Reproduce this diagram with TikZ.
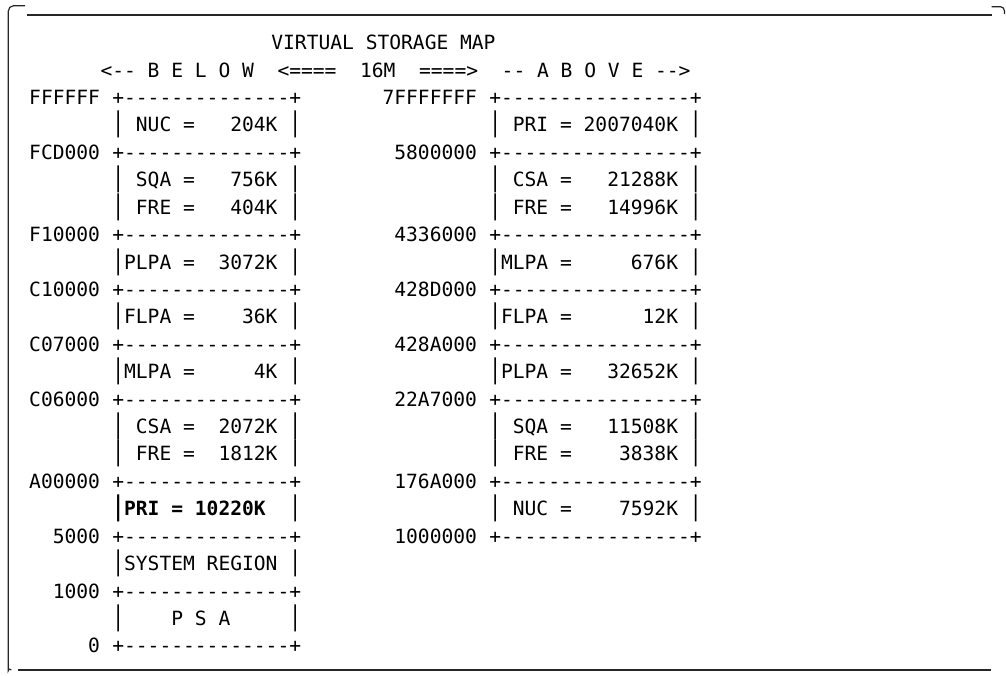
\documentclass[tikz,border=0pt]{standalone}
\usepackage{graphicx}
\usepackage{fontspec}
\setmonofont{DejaVu Sans Mono}
% tall bar, so that the sides of a box run on from row to row
\newcommand{\cellbar}{\scalebox{1}[1.38]{|}}

\begin{document}
\begin{tikzpicture}[
x=8.835pt, y=-20.565pt,
cell/.style={anchor=base west, inner sep=0pt, font=\ttfamily\fontsize{14.7pt}{17pt}\selectfont},
addr/.style={cell, anchor=base east},
frame/.style={line width=0.9pt, black!85}
]
\useasboundingbox (-2.513,-3.811) rectangle (82.886,20.806);

% frame round the screen
\draw[frame] (-0.246,-3.264) -- (81.67,-3.264);
\draw[frame, rounded corners=4pt] (-0.39,-3.603) -- (-1.808,-3.603) -- (-1.808,20.45) to[out=-90,in=180] (-1.55,20.62);
\draw[frame, rounded corners=3pt] (81.67,-3.567) -- (82.75,-3.567) -- (82.75,-3.3);
\draw[frame] (-0.985,20.62) -- (81.59,20.62);

% heading
\node[cell] (title) at (20.5,-2) {VIRTUAL STORAGE MAP};
\node[cell] (scale) at (6,-1) {<--~B~E~L~O~W~~<====~~16M~~====>~~--~A~B~O~V~E~-->};

% below the line: boundaries
\foreach \r/\adr in {0/FFFFFF,2/FCD000,5/F10000,7/C10000,9/C07000,11/C06000,14/A00000,16/5000,18/1000,20/0} {
  \node[addr] (la\r) at (6,\r) {\adr};
  \node[cell] (lb\r) at (7,\r) {+--------------+};
}
% below the line: areas
\node[cell] (lnuc)  at (7,1)  {\cellbar~NUC~=~~~204K~\cellbar};
\node[cell] (lsqa)  at (7,3)  {\cellbar~SQA~=~~~756K~\cellbar};
\node[cell] (lfre)  at (7,4)  {\cellbar~FRE~=~~~404K~\cellbar};
\node[cell] (lplpa) at (7,6)  {\cellbar PLPA~=~~3072K~\cellbar};
\node[cell] (lflpa) at (7,8)  {\cellbar FLPA~=~~~~36K~\cellbar};
\node[cell] (lmlpa) at (7,10) {\cellbar MLPA~=~~~~~4K~\cellbar};
\node[cell] (lcsa)  at (7,12) {\cellbar~CSA~=~~2072K~\cellbar};
\node[cell] (lfre2) at (7,13) {\cellbar~FRE~=~~1812K~\cellbar};
\node[cell] (lpri)  at (7,15) {\textbf{\cellbar PRI~=~10220K}~~\cellbar};
\node[cell] (lsys)  at (7,17) {\cellbar SYSTEM~REGION~\cellbar};
\node[cell] (lpsa)  at (7,19) {\cellbar~~~~P~S~A~~~~~\cellbar};

% above the line: boundaries
\foreach \r/\adr in {0/7FFFFFFF,2/5800000,5/4336000,7/428D000,9/428A000,11/22A7000,14/176A000,16/1000000} {
  \node[addr] (ra\r) at (38,\r) {\adr};
  \node[cell] (rb\r) at (39,\r) {+----------------+};
}
% above the line: areas
\node[cell] (rpri)  at (39,1)  {\cellbar~PRI~=~2007040K~\cellbar};
\node[cell] (rcsa)  at (39,3)  {\cellbar~CSA~=~~~21288K~\cellbar};
\node[cell] (rfre)  at (39,4)  {\cellbar~FRE~=~~~14996K~\cellbar};
\node[cell] (rmlpa) at (39,6)  {\cellbar MLPA~=~~~~~676K~\cellbar};
\node[cell] (rflpa) at (39,8)  {\cellbar FLPA~=~~~~~~12K~\cellbar};
\node[cell] (rplpa) at (39,10) {\cellbar PLPA~=~~~32652K~\cellbar};
\node[cell] (rsqa)  at (39,12) {\cellbar~SQA~=~~~11508K~\cellbar};
\node[cell] (rfre2) at (39,13) {\cellbar~FRE~=~~~~3838K~\cellbar};
\node[cell] (rnuc)  at (39,15) {\cellbar~NUC~=~~~~7592K~\cellbar};
\end{tikzpicture}
\end{document}
